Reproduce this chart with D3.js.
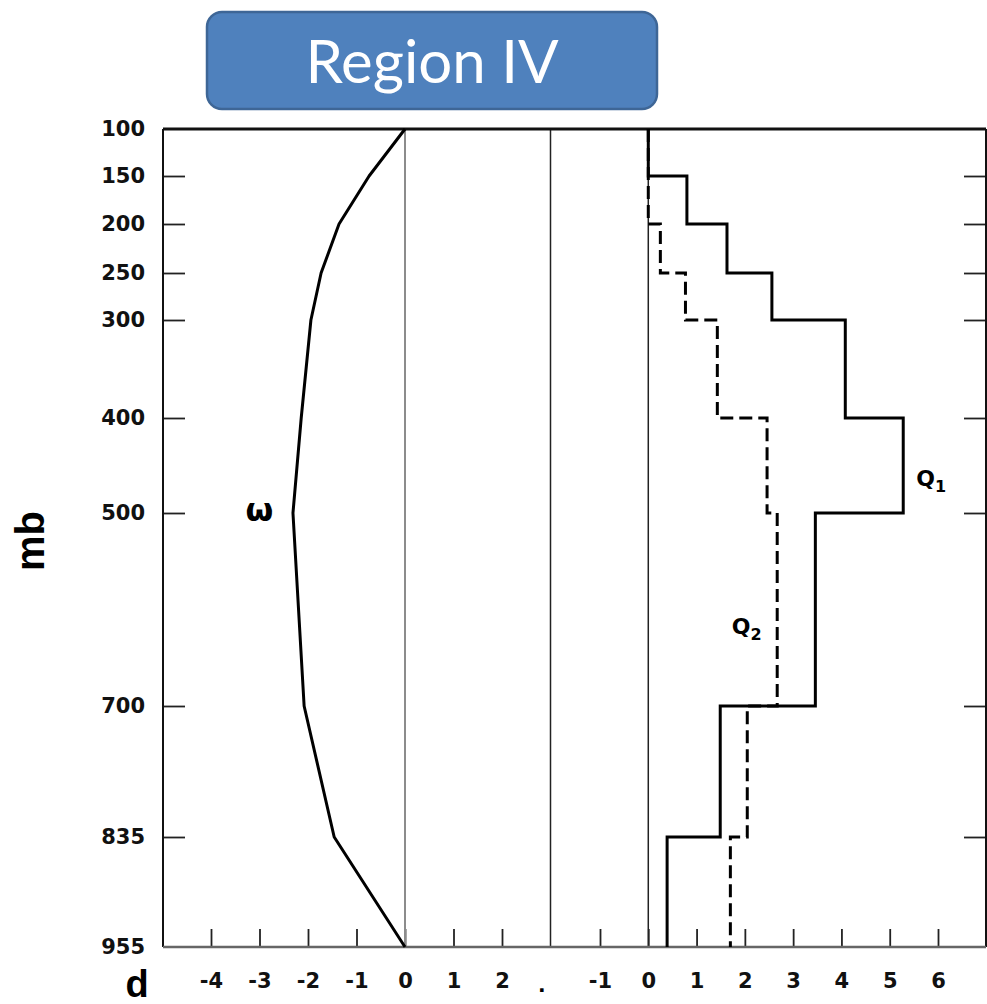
<!DOCTYPE html>
<meta charset="utf-8">
<head>
  <style>
    html, body { margin: 0; padding: 0; background: #fff; }
    svg text { font-family: "DejaVu Sans", sans-serif; }
  </style>
</head>
<script src="https://cdn.jsdelivr.net/npm/d3@7"></script>
<body>
<script>
  // pressure levels (mb) that bound each layer
  var levels = [100, 150, 200, 250, 300, 400, 500, 700, 835, 955];
  // where those labels sit on the scanned axis (slightly uneven)
  var levelPix = [129, 176, 224, 273, 320, 418, 513, 706, 837, 947];

  // omega profile, left panel
  var omegaP = [100, 150, 200, 250, 300, 400, 500, 700, 835, 955];
  var omegaV = [0, -0.74, -1.36, -1.73, -1.94, -2.14, -2.31, -2.08, -1.46, 0];

  // layer values, right panel (one per layer between levels)
  var q1 = [0, 0.8, 1.63, 2.56, 4.08, 5.28, 3.46, 1.49, 0.39];
  var q2 = [0, 0, 0.25, 0.77, 1.43, 2.46, 2.67, 2.05, 1.70];

  var leftTicks = [-4, -3, -2, -1, 0, 1, 2];
  var rightTicks = [-1, 0, 1, 2, 3, 4, 5, 6];

  var width = 987, height = 1004;
  var pLeft = 163, pRight = 986, pTop = 129, pBottom = 947;

  var svg = d3.select("body").append("svg")
    .attr("width", width)
    .attr("height", height);

  var y = d3.scaleLinear().domain(levels).range(levelPix);
  var xL = d3.scaleLinear().domain([-4, 2]).range([211, 502]);
  var xR = d3.scaleLinear().domain([-1, 6]).range([600, 938]);

  // title box
  svg.append("rect")
    .attr("x", 207).attr("y", 12)
    .attr("width", 450).attr("height", 97)
    .attr("rx", 15).attr("ry", 15)
    .attr("fill", "#4F81BD")
    .attr("stroke", "#3E6696")
    .attr("stroke-width", 2.5);
  svg.append("text")
    .attr("x", 432).attr("y", 83)
    .attr("text-anchor", "middle")
    .attr("fill", "#fff")
    .style("font-family", "Lato, sans-serif")
    .style("font-size", "60px")
    .text("Region IV");

  // y axis, left and right
  var gyl = svg.append("g").attr("transform", "translate(" + pLeft + ",0)")
    .call(d3.axisLeft(y).tickValues(levels).tickSizeInner(-22).tickSizeOuter(0).tickPadding(18)
      .tickFormat(function(d) { return d; }));
  var gyr = svg.append("g").attr("transform", "translate(" + pRight + ",0)")
    .call(d3.axisRight(y).tickValues(levels.slice(1, -1)).tickSizeInner(-22).tickSizeOuter(0).tickFormat(""));

  // x axes along the bottom
  var gxl = svg.append("g").attr("transform", "translate(0," + pBottom + ")")
    .call(d3.axisBottom(xL).tickValues(leftTicks).tickSizeInner(-18).tickSizeOuter(0).tickPadding(26));
  var gxr = svg.append("g").attr("transform", "translate(0," + pBottom + ")")
    .call(d3.axisBottom(xR).tickValues(rightTicks).tickSizeInner(-18).tickSizeOuter(0).tickPadding(26));

  [gyl, gyr, gxl, gxr].forEach(function(g) {
    g.select(".domain").remove();
    g.selectAll(".tick line").attr("stroke", "#222").attr("stroke-width", 1.8);
    g.selectAll(".tick text")
      .attr("fill", "#111")
      .style("font-size", "21px")
      .style("font-weight", "bold");
  });
  gyl.selectAll(".tick line").filter(function(d) { return d == 100 || d == 955; }).remove();
  gxl.selectAll(".tick text").text(function(d) { return d < 0 ? "-" + Math.abs(d) : d; });
  gxr.selectAll(".tick text").text(function(d) { return d < 0 ? "-" + Math.abs(d) : d; });

  // stray label under the divider
  svg.append("text")
    .attr("x", xL(2.82)).attr("y", 992)
    .attr("text-anchor", "middle")
    .style("font-size", "20px").style("font-weight", "bold")
    .text(".");

  // vertical reference lines
  svg.append("line")
    .attr("x1", xL(0)).attr("x2", xL(0)).attr("y1", pTop).attr("y2", pBottom)
    .attr("stroke", "#8c8c8c").attr("stroke-width", 2);
  svg.append("line")
    .attr("x1", xL(3)).attr("x2", xL(3)).attr("y1", pTop).attr("y2", pBottom)
    .attr("stroke", "#222").attr("stroke-width", 1.5);
  svg.append("line")
    .attr("x1", xR(0)).attr("x2", xR(0)).attr("y1", pTop).attr("y2", pBottom)
    .attr("stroke", "#222").attr("stroke-width", 1.5);

  // frame
  svg.append("line").attr("x1", pLeft).attr("x2", pRight).attr("y1", pTop).attr("y2", pTop)
    .attr("stroke", "#111").attr("stroke-width", 3);
  svg.append("line").attr("x1", pLeft).attr("x2", pLeft).attr("y1", pTop).attr("y2", pBottom)
    .attr("stroke", "#111").attr("stroke-width", 2);
  svg.append("line").attr("x1", pRight).attr("x2", pRight).attr("y1", pTop).attr("y2", pBottom)
    .attr("stroke", "#111").attr("stroke-width", 2);
  svg.append("line").attr("x1", pLeft).attr("x2", pRight).attr("y1", pBottom).attr("y2", pBottom)
    .attr("stroke", "#666").attr("stroke-width", 2.5);

  // omega curve
  var omegaLine = d3.line()
    .x(function(d) { return xL(d[1]); })
    .y(function(d) { return y(d[0]); });
  svg.append("path")
    .datum(d3.zip(omegaP, omegaV))
    .attr("d", omegaLine)
    .attr("fill", "none")
    .attr("stroke", "#000")
    .attr("stroke-width", 3)
    .attr("stroke-linejoin", "round");

  // step profiles
  function steps(vals) {
    var pts = [];
    vals.forEach(function(v, i) {
      pts.push([v, levels[i]]);
      pts.push([v, levels[i + 1]]);
    });
    return pts;
  }
  var stepLine = d3.line()
    .x(function(d) { return xR(d[0]); })
    .y(function(d) { return y(d[1]); });

  svg.append("path")
    .datum(steps(q2))
    .attr("d", stepLine)
    .attr("fill", "none")
    .attr("stroke", "#000")
    .attr("stroke-width", 3)
    .attr("stroke-dasharray", "13,6");
  svg.append("path")
    .datum(steps(q1))
    .attr("d", stepLine)
    .attr("fill", "none")
    .attr("stroke", "#000")
    .attr("stroke-width", 3);

  // labels
  var q1Lab = svg.append("text").attr("x", xR(5.55)).attr("y", y(472))
    .style("font-size", "22px").style("font-weight", "bold").text("Q");
  q1Lab.append("tspan").attr("dy", 6).style("font-size", "16px").text("1");
  var q2Lab = svg.append("text").attr("x", xR(1.73)).attr("y", y(625))
    .style("font-size", "22px").style("font-weight", "bold").text("Q");
  q2Lab.append("tspan").attr("dy", 6).style("font-size", "16px").text("2");

  svg.append("text")
    .attr("x", xL(-3)).attr("y", y(508))
    .attr("text-anchor", "middle")
    .style("font-size", "32px").style("font-weight", "bold")
    .text("ω");

  svg.append("text")
    .attr("transform", "translate(44,541) rotate(-90)")
    .attr("text-anchor", "middle")
    .style("font-family", "'Liberation Sans', Arial, sans-serif")
    .style("font-size", "40px").style("font-weight", "bold")
    .text("mb");
  svg.append("text")
    .attr("x", 137).attr("y", 997)
    .attr("text-anchor", "middle")
    .style("font-family", "'Liberation Sans', Arial, sans-serif")
    .style("font-size", "38px").style("font-weight", "bold")
    .text("d");
</script>
</body>
